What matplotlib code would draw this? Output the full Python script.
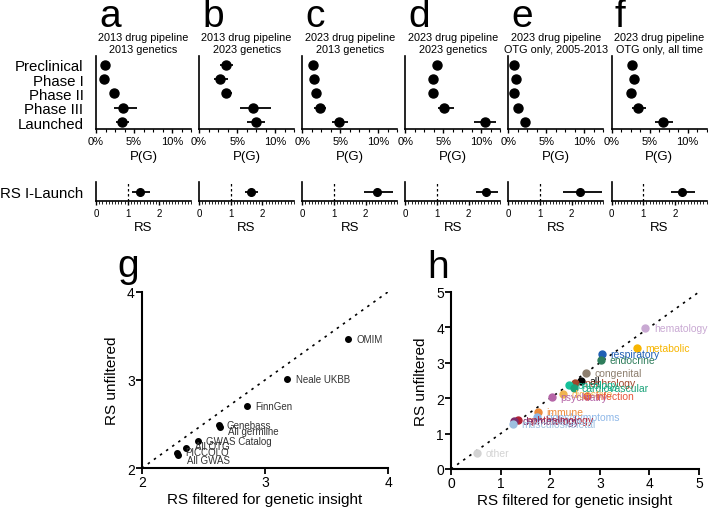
import matplotlib
matplotlib.use("Agg")
import matplotlib.pyplot as plt
import numpy as np
from matplotlib.ticker import MultipleLocator, FuncFormatter

plt.rcParams['font.family'] = ['Liberation Sans', 'DejaVu Sans']

# ---- panels a-f: P(G) by phase (%) ----
phases = ["Preclinical", "Phase I", "Phase II", "Phase III", "Launched"]
panel_letters = ["a", "b", "c", "d", "e", "f"]
panel_titles = [
    "2013 drug pipeline\n2013 genetics",
    "2013 drug pipeline\n2023 genetics",
    "2023 drug pipeline\n2013 genetics",
    "2023 drug pipeline\n2023 genetics",
    "2023 drug pipeline\nOTG only, 2005-2013",
    "2023 drug pipeline\nOTG only, all time",
]
pg_est = [
    [1.2, 1.06, 2.4, 3.6, 3.4],
    [3.5, 2.8, 3.6, 7.1, 7.5],
    [1.4, 1.6, 1.8, 2.3, 4.8],
    [4.2, 3.7, 3.7, 5.1, 10.5],
    [0.76, 1.0, 0.7, 1.2, 2.2],
    [2.7, 2.9, 2.5, 3.55, 6.8],
]
pg_lo = [
    [0.75, 0.8, 2.0, 2.4, 2.6],
    [2.7, 2.0, 3.0, 5.35, 6.3],
    [1.2, 1.4, 1.6, 1.6, 3.9],
    [3.9, 3.3, 3.4, 4.3, 9.1],
    [0.6, 0.85, 0.55, 0.7, 1.7],
    [2.5, 2.7, 2.3, 2.7, 5.7],
]
pg_hi = [
    [1.75, 1.4, 3.0, 5.4, 4.3],
    [4.5, 3.8, 4.3, 9.5, 8.7],
    [1.6, 1.8, 2.0, 3.1, 6.0],
    [4.5, 4.1, 4.0, 6.4, 12.0],
    [0.9, 1.15, 0.85, 1.9, 2.9],
    [2.9, 3.1, 2.7, 4.5, 8.1],
]

# relative success, phase I to launch
rs_est = [1.39, 1.63, 2.37, 2.55, 2.26, 2.24]
rs_lo = [1.15, 1.45, 1.94, 2.24, 1.72, 1.89]
rs_hi = [1.72, 1.87, 2.87, 2.92, 2.97, 2.65]

# ---- panel g: by genetic source ----
src_names = ["OMIM", "Neale UKBB", "FinnGen", "Genebass", "All germline",
             "GWAS Catalog", "All OTG", "PICCOLO", "All GWAS"]
src_filtered = [3.676, 3.18, 2.856, 2.624, 2.633, 2.454, 2.362, 2.286, 2.297]
src_unfiltered = [3.464, 3.01, 2.71, 2.494, 2.464, 2.313, 2.226, 2.173, 2.154]

# ---- panel h: by therapy area ----
ta_names = ["hematology", "metabolic", "respiratory", "endocrine", "congenital",
            "all", "nephrology", "oncology", "cardiovascular", "digestive",
            "psychiatry", "infection", "immune", "signs/symptoms",
            "ophthalmology", "dermatology", "musculoskeletal", "other"]
ta_filtered = [3.92, 3.75, 3.04, 3.03, 2.72, 2.62, 2.51, 2.38, 2.47, 2.26,
               2.03, 2.74, 1.76, 1.74, 1.35, 1.28, 1.25, 0.52]
ta_unfiltered = [3.98, 3.42, 3.26, 3.07, 2.72, 2.48, 2.42, 2.36, 2.29, 2.12,
                 2.02, 2.05, 1.62, 1.48, 1.38, 1.37, 1.28, 0.45]
ta_colors = ["#c9a9d3", "#f7b500", "#1f5fb4", "#2e7d5b", "#8c7e6e",
             "#000000", "#a0452b", "#14c19a", "#1aa37a", "#f0b450",
             "#b565a7", "#e8553b", "#ec8a3a", "#8fb8e8",
             "#b22234", "#7b2d6b", "#9ec0e0", "#d3d3d3"]

W, H = 708, 510
fig = plt.figure(figsize=(W / 100, H / 100), dpi=100)

def fx(px):
    return px / W

def fy(py):
    return 1 - py / H

lefts = [96 + i * 103.1 for i in range(6)]
aw = 95

for i in range(6):
    ax = fig.add_axes([fx(lefts[i]), fy(130), fx(aw), (130 - 57) / H])
    y = np.arange(len(phases))
    est = np.array(pg_est[i])
    err = [est - np.array(pg_lo[i]), np.array(pg_hi[i]) - est]
    ax.errorbar(est, y, xerr=err, fmt='o', color='black', ms=6.5,
                elinewidth=1.3, capsize=0)
    ax.set_xlim(0, 12.5)
    ax.set_ylim(4.47, -0.6)
    ax.xaxis.set_major_locator(MultipleLocator(5))
    ax.xaxis.set_minor_locator(MultipleLocator(1.25))
    ax.xaxis.set_major_formatter(FuncFormatter(lambda v, p: f"{v:.0f}%"))
    ax.tick_params(axis='x', labelsize=8, length=3, width=1, pad=2)
    ax.tick_params(axis='x', which='minor', length=2, width=0.8)
    ax.set_xlabel("P(G)", fontsize=9.5, labelpad=3)
    ax.set_yticks(y)
    if i == 0:
        ax.set_yticklabels(phases, fontsize=10.8)
        ax.tick_params(axis='y', length=0, pad=9)
    else:
        ax.set_yticklabels([])
        ax.tick_params(axis='y', length=0)
    for s in ['top', 'right']:
        ax.spines[s].set_visible(False)
    for s in ['left', 'bottom']:
        ax.spines[s].set_linewidth(1.2)
    ax.set_title(panel_titles[i], fontsize=7.8, pad=3, linespacing=1.2)
    fig.text(fx(lefts[i] + 3), fy(27), panel_letters[i], fontsize=28,
             va='baseline', ha='left')

    # RS row
    rax = fig.add_axes([fx(lefts[i]), fy(202), fx(aw), (202 - 183) / H])
    rax.errorbar([rs_est[i]], [0], xerr=[[rs_est[i] - rs_lo[i]], [rs_hi[i] - rs_est[i]]],
                 fmt='o', color='black', ms=5.5, elinewidth=1.3, capsize=0)
    rax.axvline(1, color='black', ls=(0, (2, 2)), lw=0.9)
    rax.set_xlim(0, 3)
    rax.set_ylim(-1, 1)
    rax.set_xticks([0, 1, 2])
    rax.xaxis.set_minor_locator(MultipleLocator(0.1))
    rax.tick_params(axis='x', labelsize=7, length=3, width=1, pad=2)
    rax.tick_params(axis='x', which='minor', length=2, width=0.6)
    rax.set_yticks([0])
    if i == 0:
        rax.set_yticklabels(["RS I-Launch"], fontsize=10.8)
        rax.tick_params(axis='y', length=0, pad=9)
    else:
        rax.set_yticklabels([])
        rax.tick_params(axis='y', length=0)
    rax.set_xlabel("RS", fontsize=9.5, labelpad=2)
    for s in ['top', 'right']:
        rax.spines[s].set_visible(False)
    for s in ['left', 'bottom']:
        rax.spines[s].set_linewidth(1.2)

# ---- panel g ----
gax = fig.add_axes([fx(141.7), fy(469.3), fx(246.6), 176.6 / H])
gax.plot([2, 4], [2, 4], color='black', ls=(0, (1.5, 3)), lw=1.2)
gax.plot(src_filtered, src_unfiltered, 'o', color='black', ms=4)
g_dy = {"All germline": -3, "All GWAS": -4, "PICCOLO": 1, "All OTG": 2}
for n, xv, yv in zip(src_names, src_filtered, src_unfiltered):
    gax.annotate(n, (xv, yv), xytext=(6, g_dy.get(n, 0)), textcoords='offset points',
                 fontsize=7, color='#333333', va='center', ha='left')
gax.set_xlim(2, 4)
gax.set_ylim(2, 4)
gax.set_xticks([2, 3, 4])
gax.set_yticks([2, 3, 4])
gax.tick_params(labelsize=10, length=4, width=1.3, pad=1)
gax.set_xlabel("RS filtered for genetic insight", fontsize=11, labelpad=2)
gax.set_ylabel("RS unfiltered", fontsize=11, labelpad=6)
for s in ['top', 'right']:
    gax.spines[s].set_visible(False)
for s in ['left', 'bottom']:
    gax.spines[s].set_linewidth(1.5)
fig.text(fx(117), fy(277), "g", fontsize=28, va='baseline', ha='left')

# ---- panel h ----
hax = fig.add_axes([fx(451), fy(470), fx(248), 177 / H])
hax.plot([0, 5], [0, 5], color='black', ls=(0, (1.5, 3)), lw=1.2)
for n, xv, yv, c in zip(ta_names, ta_filtered, ta_unfiltered, ta_colors):
    hax.plot(xv, yv, 'o', color=c, ms=5)
    hax.annotate(n, (xv, yv), xytext=(6, 0), textcoords='offset points',
                 fontsize=7.5, color=c, va='center', ha='left')
hax.set_xlim(0, 5)
hax.set_ylim(0, 5)
hax.set_xticks(range(6))
hax.set_yticks(range(6))
hax.tick_params(labelsize=10, length=4, width=1.3, pad=1)
hax.set_xlabel("RS filtered for genetic insight", fontsize=11, labelpad=2)
hax.set_ylabel("RS unfiltered", fontsize=11, labelpad=6)
for s in ['top', 'right']:
    hax.spines[s].set_visible(False)
for s in ['left', 'bottom']:
    hax.spines[s].set_linewidth(1.5)
fig.text(fx(427), fy(278), "h", fontsize=28, va='baseline', ha='left')

fig.savefig("out.png", dpi=100)
